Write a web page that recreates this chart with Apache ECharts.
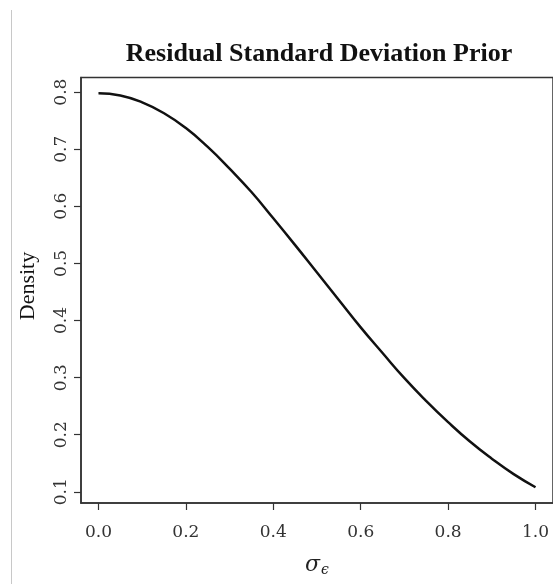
<!DOCTYPE html>
<html>
<head>
<meta charset="utf-8">
<script src="https://cdn.jsdelivr.net/npm/echarts@6/dist/echarts.min.js"></script>
<style>html,body{margin:0;padding:0;background:#fff;}#c{width:553px;height:584px;}</style>
</head>
<body>
<div id="c"></div>
<script>
var sigmaValues = [0, 0.05, 0.1, 0.15, 0.2, 0.25, 0.3, 0.35, 0.4, 0.45, 0.5, 0.55, 0.6, 0.65, 0.7, 0.75, 0.8, 0.85, 0.9, 0.95, 1.0];
var densityValues = [0.798, 0.794, 0.782, 0.763, 0.737, 0.704, 0.666, 0.625, 0.579, 0.532, 0.484, 0.436, 0.388, 0.343, 0.299, 0.259, 0.222, 0.188, 0.158, 0.131, 0.108];
var xTicks = [0, 0.2, 0.4, 0.6, 0.8, 1.0];
var yTicks = [0.1, 0.2, 0.3, 0.4, 0.5, 0.6, 0.7, 0.8];
var titleText = 'Residual Standard Deviation Prior';
var yTitle = 'Density';

var chart = echarts.init(document.getElementById('c'), null, {renderer: 'canvas'});
var pts = sigmaValues.map(function (x, i) { return [x, densityValues[i]]; });
var labelFont = 'DejaVu Serif';
chart.setOption({
  animation: false,
  backgroundColor: '#fff',
  grid: {left: 81, top: 77.5, width: 476, height: 425.5, show: true, borderColor: '#333', borderWidth: 1.5, backgroundColor: 'transparent'},
  xAxis: {
    type: 'value', min: -0.04, max: 1.04,
    splitLine: {show: false},
    axisLine: {show: true, onZero: false, lineStyle: {color: '#333', width: 1.5}},
    axisTick: {show: true, length: 7, customValues: xTicks, lineStyle: {color: '#333', width: 1.2}},
    axisLabel: {customValues: xTicks, margin: 21, fontFamily: labelFont, fontSize: 17, color: '#333',
      formatter: function (v) { return v.toFixed(1); }},
    name: '{s|σ}{e|ϵ}', nameLocation: 'middle', nameGap: 50,
    nameTextStyle: {rich: {
      s: {fontFamily: 'DejaVu Serif', fontStyle: 'italic', fontSize: 22, color: '#222'},
      e: {fontFamily: 'DejaVu Serif', fontStyle: 'italic', fontSize: 14, color: '#222', padding: [10, 0, 0, 1]}
    }}
  },
  yAxis: {
    type: 'value', min: 0.0804, max: 0.8256,
    splitLine: {show: false},
    axisLine: {show: true, onZero: false, lineStyle: {color: '#333', width: 1.5}},
    axisTick: {show: true, length: 7, customValues: yTicks, lineStyle: {color: '#333', width: 1.2}},
    axisLabel: {customValues: yTicks, rotate: 90, margin: 11, fontFamily: labelFont, fontSize: 17, color: '#333',
      formatter: function (v) { return v.toFixed(1); }}
  },
  graphic: [
    {type: 'line', shape: {x1: 11.5, y1: 10, x2: 11.5, y2: 584}, style: {stroke: '#c8c8c8', lineWidth: 1}},
    {type: 'text', x: 319, y: 54, style: {text: titleText, font: 'bold 26px "Liberation Serif"', fill: '#111', textAlign: 'center', textVerticalAlign: 'middle'}},
    {type: 'text', x: 28, y: 286, rotation: Math.PI / 2, style: {text: yTitle, font: '22px "Liberation Serif"', fill: '#111', textAlign: 'center', textVerticalAlign: 'middle'}}
  ],
  series: [{
    type: 'line', data: pts, smooth: true, showSymbol: false, symbol: 'none',
    lineStyle: {color: '#111', width: 2.5}
  }]
});
</script>
</body>
</html>
